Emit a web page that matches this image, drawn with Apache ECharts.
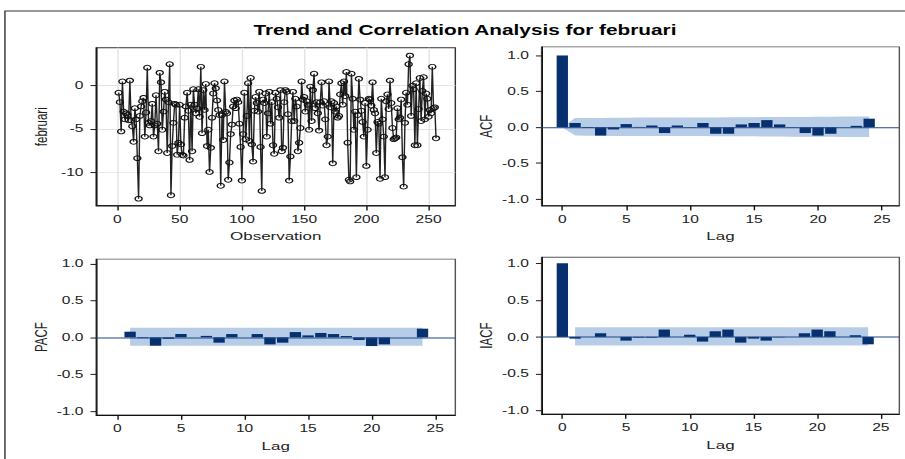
<!DOCTYPE html>
<html>
<head>
<meta charset="utf-8">
<script src="https://cdn.jsdelivr.net/npm/echarts@6/dist/echarts.min.js"></script>
<style>
  html, body { margin: 0; padding: 0; background: #fff; overflow: hidden; }
  /* drawn on a 640x480 canvas, then stretched to the 905x459 window */
  #chart { width: 640px; height: 480px; transform: scale(1.41406, 0.95625); transform-origin: 0 0; }
</style>
</head>
<body>
<div id="chart"></div>
<script>
// February series, one value per observation (1..256)
const februari = [
  -0.8, -1.9, -5.3, 0.5, -3.0, -3.9, -3.2, -3.4, -4.0, 0.6,
  -4.0, -4.7, -6.5, -2.6, -3.9, -8.4, -13.1, -3.5, -2.4, -1.8,
  -1.4, -5.9, -3.1, 2.1, -4.3, -4.6, -4.1, -2.1, -5.9, -4.6,
  -1.1, -4.4, -7.6, 1.5, 0.4, -5.1, -3.0, -0.7, -1.6, -7.8,
  -1.9, 2.5, -12.7, -7.0, -4.3, -2.1, -2.2, -8.0, -6.6, -2.2,
  -6.8, -8.0, -8.1, -3.7, -2.4, -0.8, -2.9, -8.6, -2.2, -7.6,
  -0.4, -2.2, -3.2, -2.6, -0.4, -3.6, 2.2, -5.5, -0.5, -2.8,
  0.2, -7.0, -5.1, -10.0, -7.2, -3.7, -0.9, 0.3, -0.3, -1.7,
  -2.8, -3.4, -11.6, -3.4, -6.3, 0.5, -3.0, -3.2, -10.9, -8.9,
  -5.6, -4.5, -2.4, -1.7, -2.6, -1.6, -1.9, -4.4, -7.1, -11.0,
  -5.6, -0.8, -6.2, -3.5, 0.3, -6.4, 0.9, -6.8, -8.8, -2.9,
  -1.3, -2.0, -3.0, -0.7, -7.1, -12.2, -1.6, -2.0, -0.9, -5.9,
  -3.2, -0.7, -4.4, -1.9, -6.9, -7.9, -0.8, -1.5, -2.5, -3.7,
  -0.5, -7.6, -7.2, -1.9, -0.5, -0.7, -3.3, -11.0, -8.2, -4.1,
  -0.7, -4.1, -1.5, -2.4, -7.6, -6.6, -4.9, 0.5, -1.6, -1.3,
  -3.0, -1.8, -2.2, -5.1, -0.1, -4.1, -0.5, 1.4, -2.6, -1.9,
  -3.2, -5.2, -1.9, 0.4, -2.3, -1.8, -3.9, -6.9, -5.9, 0.5,
  -2.5, -1.8, -9.0, -2.0, -3.0, -2.4, -3.7, -3.5, -1.0, 0.3,
  -2.2, 0.5, -1.2, 1.6, -6.6, -10.9, -11.1, 1.4, -1.5, -5.1,
  -3.0, -10.6, -3.4, 0.8, -1.6, -2.9, -4.2, -5.9, -2.0, -9.3,
  -5.1, -1.5, -1.6, -2.3, 0.4, -2.8, -3.2, -7.8, -4.2, -4.4,
  -10.8, -1.5, -3.9, -5.9, -10.6, -1.8, -1.0, -2.7, 0.6, -2.0,
  -4.9, -6.2, -6.1, -6.0, -2.6, -3.9, -3.7, -1.6, -8.3, -11.7,
  -4.3, -0.8, -2.2, 2.5, 3.5, -3.5, 0.0, -0.4, -6.9, 0.3,
  -6.9, -2.7, 0.9, -4.1, -0.6, 1.0, -3.9, -0.9, -1.5, -3.6,
  -2.8, -3.2, 2.2, -2.6, -2.5, -6.1
];

// Correlation functions by lag
const lags = [0, 1, 2, 3, 4, 5, 6, 7, 8, 9, 10, 11, 12, 13, 14, 15, 16, 17, 18, 19, 20, 21, 22, 23, 24];
const acf = [1.0, 0.06, -0.01, -0.115, -0.03, 0.045, 0.005, 0.025, -0.08, 0.025, -0.005, 0.06, -0.09,
             -0.09, 0.04, 0.06, 0.10, 0.04, -0.005, -0.08, -0.115, -0.09, 0.0, 0.02, 0.12];
const pacfLags = [1, 2, 3, 4, 5, 6, 7, 8, 9, 10, 11, 12, 13, 14, 15, 16, 17, 18, 19, 20, 21, 22, 23, 24];
const pacf = [0.077, -0.01, -0.113, -0.02, 0.045, 0.0, 0.02, -0.072, 0.045, 0.0, 0.045, -0.095,
              -0.072, 0.072, 0.027, 0.06, 0.045, 0.018, -0.036, -0.118, -0.095, 0.0, 0.0, 0.118];
const iacf = [1.0, -0.023, 0.0, 0.05, 0.0, -0.05, -0.01, -0.01, 0.10, 0.0, 0.03, -0.063, 0.077,
              0.10, -0.077, -0.023, -0.05, -0.005, 0.0, 0.05, 0.10, 0.077, 0.0, 0.023, -0.10];

// Two standard error bands
const acfBandHi = [0, 0.13, 0.131, 0.131, 0.134, 0.134, 0.135, 0.135, 0.135, 0.136, 0.137, 0.137, 0.138,
                   0.139, 0.14, 0.141, 0.142, 0.144, 0.145, 0.145, 0.146, 0.148, 0.149, 0.149, 0.15];
const acfBandLo = [0, -0.115, -0.116, -0.117, -0.12, -0.12, -0.121, -0.121, -0.121, -0.122, -0.122, -0.122, -0.123,
                   -0.124, -0.125, -0.126, -0.127, -0.129, -0.13, -0.13, -0.131, -0.133, -0.134, -0.134, -0.135];
const bandLags = [1, 24];
const pacfBandHi = [0.13, 0.13];
const pacfBandLo = [-0.115, -0.115];
const iacfBandHi = [0.13, 0.13];
const iacfBandLo = [-0.115, -0.115];

// Tick positions
const obsTicks = [0, 50, 100, 150, 200, 250];
const seriesTicks = [-10, -5, 0];
const lagTicks = [0, 5, 10, 15, 20, 25];
const corrTicks = [-1, -0.5, 0, 0.5, 1];

const FONT = "'Liberation Sans', Arial, sans-serif";
const BAR = '#06306e';
const BAND = '#b7cce6';
const ZERO = '#1f4788';

function xAxisFor(grid, min, max, ticks, name, gridLines) {
  return {
    type: 'value', gridIndex: grid, min: min, max: max,
    name: name, nameLocation: 'middle', nameGap: 26,
    nameTextStyle: { fontFamily: FONT, fontSize: 12, color: '#222' },
    axisLine: { show: true, onZero: false, lineStyle: { color: '#111', width: 1 } },
    axisTick: { show: true, length: 5, customValues: ticks, lineStyle: { color: '#111' } },
    axisLabel: { customValues: ticks, margin: 9, fontFamily: FONT, fontSize: 11, color: '#222' },
    splitLine: { show: gridLines, lineStyle: { color: '#e3e3e3', width: 1 } }
  };
}

function yAxisFor(grid, min, max, ticks, name, gridLines, fmt) {
  return {
    type: 'value', gridIndex: grid, min: min, max: max,
    name: name, nameLocation: 'middle', nameGap: 33, nameRotate: 90,
    nameTextStyle: { fontFamily: FONT, fontSize: 12, color: '#222' },
    axisLine: { show: true, onZero: false, lineStyle: { color: '#111', width: 1 } },
    axisTick: { show: true, length: 4, customValues: ticks, lineStyle: { color: '#111' } },
    axisLabel: { customValues: ticks, margin: 9, fontFamily: FONT, fontSize: 11, color: '#222', formatter: fmt },
    splitLine: { show: gridLines, lineStyle: { color: '#e3e3e3', width: 1 } }
  };
}

function bandSeries(idx, bl, hi, lo) {
  return {
    type: 'custom', xAxisIndex: idx, yAxisIndex: idx, silent: true, z: 1,
    data: [[bl[0], 0]], encode: { x: 0, y: 1 },
    renderItem: function (params, api) {
      const pts = [];
      for (let k = 0; k < bl.length; k++) pts.push(api.coord([bl[k], hi[k]]));
      for (let k = bl.length - 1; k >= 0; k--) pts.push(api.coord([bl[k], lo[k]]));
      return { type: 'polygon', shape: { points: pts }, style: { fill: BAND } };
    }
  };
}

function barSeries(idx, xs, ys) {
  return {
    type: 'bar', xAxisIndex: idx, yAxisIndex: idx, z: 3, barWidth: 8,
    data: xs.map(function (l, k) { return [l, ys[k]]; }),
    itemStyle: { color: BAR },
    markLine: {
      silent: true, symbol: ['none', 'none'], label: { show: false }, animation: false,
      lineStyle: { color: ZERO, width: 1, type: 'solid' },
      emphasis: { disabled: true },
      data: [{ yAxis: 0 }]
    }
  };
}

const corrFmt = function (v) { return v.toFixed(1); };
const intFmt = function (v) { return String(v); };

const option = {
  backgroundColor: '#fff',
  animation: false,
  graphic: [
    { type: 'polyline', silent: true,
      shape: { points: [[3.5, 500], [3.5, 11.5], [640, 11.5]] },
      style: { stroke: '#333', lineWidth: 1, fill: null } },
    { type: 'text', silent: true, x: 328.8, y: 31.4,
      style: { text: 'Trend and Correlation Analysis for februari', fontFamily: FONT, fontSize: 14.7,
               fontWeight: 'bold', fill: '#000', align: 'center', verticalAlign: 'middle' } }
  ],
  grid: [
    { left: 68, top: 50, width: 254, height: 165, show: true, borderColor: '#333', borderWidth: 1, backgroundColor: 'transparent', outerBoundsMode: 'none' },
    { left: 383, top: 49, width: 253, height: 166, show: true, borderColor: '#555', borderWidth: 1, backgroundColor: 'transparent', outerBoundsMode: 'none' },
    { left: 68, top: 271, width: 254, height: 163, show: true, borderColor: '#555', borderWidth: 1, backgroundColor: 'transparent', outerBoundsMode: 'none' },
    { left: 383, top: 269, width: 253, height: 164, show: true, borderColor: '#555', borderWidth: 1, backgroundColor: 'transparent', outerBoundsMode: 'none' }
  ],
  xAxis: [
    xAxisFor(0, -17.1, 271.5, obsTicks, 'Observation', true),
    xAxisFor(1, -1.62, 26.36, lagTicks, 'Lag', false),
    xAxisFor(2, -1.67, 26.58, lagTicks, 'Lag', false),
    xAxisFor(3, -1.63, 26.45, lagTicks, 'Lag', false)
  ],
  yAxis: [
    yAxisFor(0, -13.9, 4.4, seriesTicks, 'februari', true, intFmt),
    yAxisFor(1, -1.09, 1.12, corrTicks, 'ACF', false, corrFmt),
    yAxisFor(2, -1.054, 1.062, corrTicks, 'PACF', false, corrFmt),
    yAxisFor(3, -1.045, 1.08, corrTicks, 'IACF', false, corrFmt)
  ],
  series: [
    {
      type: 'line', xAxisIndex: 0, yAxisIndex: 0, z: 3,
      data: februari.map(function (v, i) { return [i + 1, v]; }),
      symbol: 'circle', symbolSize: 5, showSymbol: true, showAllSymbol: true,
      lineStyle: { color: '#222', width: 1 },
      itemStyle: { color: 'rgba(255,255,255,0)', borderColor: '#111', borderWidth: 1 }
    },
    bandSeries(1, lags, acfBandHi, acfBandLo),
    barSeries(1, lags, acf),
    bandSeries(2, bandLags, pacfBandHi, pacfBandLo),
    barSeries(2, pacfLags, pacf),
    bandSeries(3, bandLags, iacfBandHi, iacfBandLo),
    barSeries(3, lags, iacf)
  ]
};

const chart = echarts.init(document.getElementById('chart'), null, { renderer: 'svg', width: 640, height: 480 });
chart.setOption(option);
</script>
</body>
</html>
